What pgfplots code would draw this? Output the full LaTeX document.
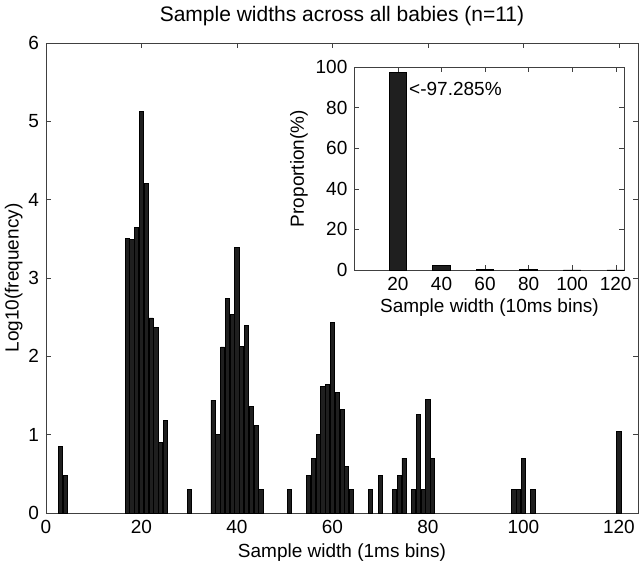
\documentclass[border=0pt]{standalone}
\usepackage{fontspec}
\setmainfont{Liberation Sans}
\usepackage{pgfplots}
\pgfplotsset{compat=1.18}
\usepackage{pgfplotstable}

% log10 counts per 1 ms bin
\pgfplotstableread{
w    lf
3    0.85
4    0.48
17   3.51
18   3.49
19   3.65
20   5.13
21   4.21
22   2.49
23   2.37
24   0.90
25   1.18
30   0.30
35   1.44
36   1.00
37   2.12
38   2.74
39   2.53
40   3.39
41   2.13
42   2.40
43   1.36
44   1.12
45   0.30
51   0.30
55   0.48
56   0.70
57   1.00
58   1.62
59   1.64
60   2.43
61   1.54
62   1.32
63   0.60
64   0.30
68   0.30
70   0.48
73   0.30
74   0.48
75   0.70
77   0.30
78   1.26
79   0.30
80   1.45
81   0.70
98   0.30
99   0.30
100  0.70
102  0.30
120  1.04
}\fine

% proportion per 10 ms bin
\pgfplotstableread{
w    p
20   97.285
40   2.45
60   0.12
80   0.06
100  0.05
120  0.03
}\coarse

\begin{document}
\begin{tikzpicture}[font=\fontsize{9.5}{11}\selectfont]
\useasboundingbox (-23pt,-25.5pt) rectangle (297.5pt,256.5pt);
\pgfplotsset{
  every axis/.append style={
    scale only axis,
    axis line style={black!75},
    major tick length=2.5pt,
    tick style={black!75},
    /pgf/number format/assume math mode=true,
    ticklabel style={font=\fontsize{9.5}{11}\selectfont},
  },
}
\begin{axis}[
  name=main,
  width=296pt, height=235pt,
  xmin=0, xmax=124,
  ymin=0, ymax=6,
  xtick={0,20,...,120},
  ytick={0,1,...,6},
  title={Sample widths across all babies (n=11)},
  title style={font=\fontsize{10.5}{12}\selectfont, yshift=-1pt},
  xlabel={Sample width (1ms bins)},
  ylabel={Log10(frequency)},
  xlabel style={yshift=2pt},
  ylabel style={yshift=-4pt},
]
\addplot[ybar, bar width=0.88, fill=black!88, draw=black] table[x=w, y=lf] {\fine};
\end{axis}

\begin{axis}[
  at={(154.2pt,121.5pt)}, anchor=south west,
  width=135pt, height=101.5pt,
  axis background/.style={fill=white},
  xmin=0, xmax=124,
  ymin=0, ymax=100,
  xtick={20,40,...,120},
  ytick={0,20,...,100},
  xlabel={Sample width (10ms bins)},
  ylabel={Proportion(\%)},
  xlabel style={yshift=3pt},
  ylabel style={yshift=-3pt},
]
\addplot[ybar, bar width=8, fill=black!88, draw=black] table[x=w, y=p] {\coarse};
\node[anchor=west, inner sep=0pt] at (axis cs:25,89) {<-97.285\%};
\end{axis}
\end{tikzpicture}
\end{document}
